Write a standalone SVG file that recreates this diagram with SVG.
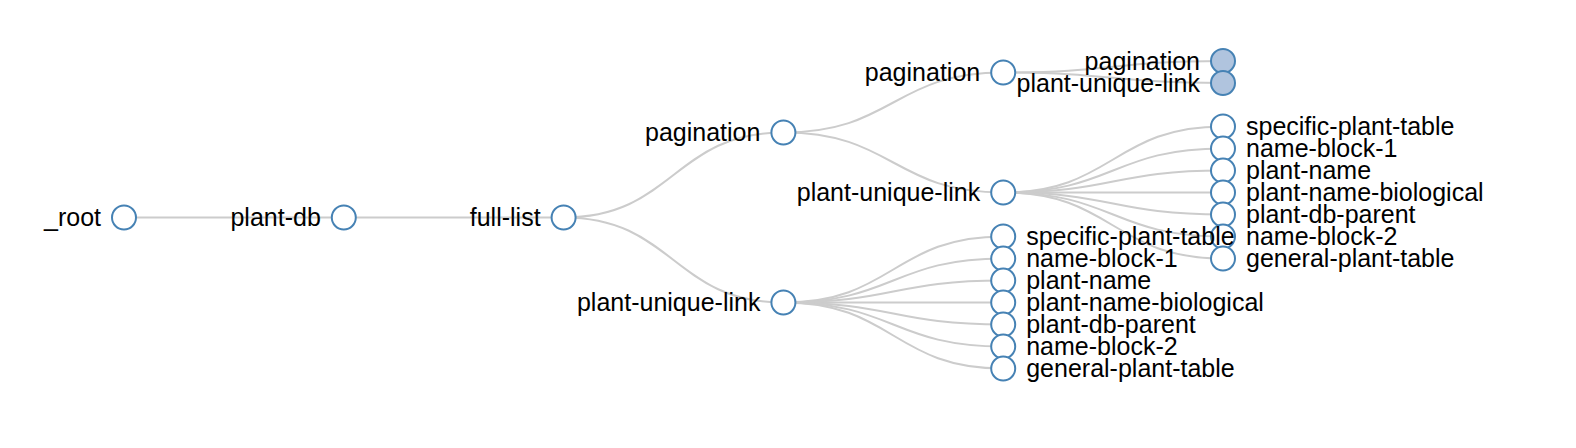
<svg xmlns="http://www.w3.org/2000/svg" width="1576" height="448" viewBox="0 0 1576 448">
<style>
.link{fill:none;stroke:#ccc;stroke-width:2}
.node circle{fill:#fff;stroke:#4682b4;stroke-width:2}
.node.collapsed circle{fill:#b0c4de}
.node text{font-family:"Liberation Sans",Arial,sans-serif;font-size:25px;fill:#000}
.l{text-anchor:end}
.r{text-anchor:start}
</style>
<rect width="1576" height="448" fill="#fff"/>
<g id="links">
<path class="link" d="M124,217.5 C233.9,217.5 233.9,217.5 343.8,217.5"/>
<path class="link" d="M343.8,217.5 C453.7,217.5 453.7,217.5 563.6,217.5"/>
<path class="link" d="M563.6,217.5 C673.5,217.5 673.5,132.5 783.4,132.5"/>
<path class="link" d="M563.6,217.5 C673.5,217.5 673.5,302.5 783.4,302.5"/>
<path class="link" d="M783.4,132.5 C893.3,132.5 893.3,72.5 1003.2,72.5"/>
<path class="link" d="M783.4,132.5 C893.3,132.5 893.3,192.5 1003.2,192.5"/>
<path class="link" d="M1003.2,72.5 C1113.1,72.5 1113.1,61 1223,61"/>
<path class="link" d="M1003.2,72.5 C1113.1,72.5 1113.1,83 1223,83"/>
<path class="link" d="M1003.2,192.5 C1113.1,192.5 1113.1,126.5 1223,126.5"/>
<path class="link" d="M1003.2,192.5 C1113.1,192.5 1113.1,148.5 1223,148.5"/>
<path class="link" d="M1003.2,192.5 C1113.1,192.5 1113.1,170.5 1223,170.5"/>
<path class="link" d="M1003.2,192.5 C1113.1,192.5 1113.1,192.5 1223,192.5"/>
<path class="link" d="M1003.2,192.5 C1113.1,192.5 1113.1,214.5 1223,214.5"/>
<path class="link" d="M1003.2,192.5 C1113.1,192.5 1113.1,236.5 1223,236.5"/>
<path class="link" d="M1003.2,192.5 C1113.1,192.5 1113.1,258.5 1223,258.5"/>
<path class="link" d="M783.4,302.5 C893.3,302.5 893.3,236.5 1003.2,236.5"/>
<path class="link" d="M783.4,302.5 C893.3,302.5 893.3,258.5 1003.2,258.5"/>
<path class="link" d="M783.4,302.5 C893.3,302.5 893.3,280.5 1003.2,280.5"/>
<path class="link" d="M783.4,302.5 C893.3,302.5 893.3,302.5 1003.2,302.5"/>
<path class="link" d="M783.4,302.5 C893.3,302.5 893.3,324.5 1003.2,324.5"/>
<path class="link" d="M783.4,302.5 C893.3,302.5 893.3,346.5 1003.2,346.5"/>
<path class="link" d="M783.4,302.5 C893.3,302.5 893.3,368.5 1003.2,368.5"/>
</g>
<g id="n-root" class="node" transform="translate(124,217.5)"><circle r="12"/><text class="l" x="-23" dy="8.5">_root</text></g>
<g id="n-plant-db" class="node" transform="translate(343.8,217.5)"><circle r="12"/><text class="l" x="-23" dy="8.5">plant-db</text></g>
<g id="n-full-list" class="node" transform="translate(563.6,217.5)"><circle r="12"/><text class="l" x="-23" dy="8.5">full-list</text></g>
<g id="n-pagination-3" class="node" transform="translate(783.4,132.5)"><circle r="12"/><text class="l" x="-23" dy="8.5">pagination</text></g>
<g id="n-pagination-4" class="node" transform="translate(1003.2,72.5)"><circle r="12"/><text class="l" x="-23" dy="8.5">pagination</text></g>
<g id="n-pagination-5" class="node collapsed" transform="translate(1223,61)"><circle r="12"/><text class="l" x="-23" dy="8.5">pagination</text></g>
<g id="n-pul-5" class="node collapsed" transform="translate(1223,83)"><circle r="12"/><text class="l" x="-23" dy="8.5">plant-unique-link</text></g>
<g id="n-pul-4" class="node" transform="translate(1003.2,192.5)"><circle r="12"/><text class="l" x="-23" dy="8.5">plant-unique-link</text></g>
<g id="n5-specific-plant-table" class="node" transform="translate(1223,126.5)"><circle r="12"/><text class="r" x="23" dy="8.5">specific-plant-table</text></g>
<g id="n5-name-block-1" class="node" transform="translate(1223,148.5)"><circle r="12"/><text class="r" x="23" dy="8.5">name-block-1</text></g>
<g id="n5-plant-name" class="node" transform="translate(1223,170.5)"><circle r="12"/><text class="r" x="23" dy="8.5">plant-name</text></g>
<g id="n5-plant-name-biological" class="node" transform="translate(1223,192.5)"><circle r="12"/><text class="r" x="23" dy="8.5">plant-name-biological</text></g>
<g id="n5-plant-db-parent" class="node" transform="translate(1223,214.5)"><circle r="12"/><text class="r" x="23" dy="8.5">plant-db-parent</text></g>
<g id="n5-name-block-2" class="node" transform="translate(1223,236.5)"><circle r="12"/><text class="r" x="23" dy="8.5">name-block-2</text></g>
<g id="n5-general-plant-table" class="node" transform="translate(1223,258.5)"><circle r="12"/><text class="r" x="23" dy="8.5">general-plant-table</text></g>
<g id="n-pul-3" class="node" transform="translate(783.4,302.5)"><circle r="12"/><text class="l" x="-23" dy="8.5">plant-unique-link</text></g>
<g id="n4-specific-plant-table" class="node" transform="translate(1003.2,236.5)"><circle r="12"/><text class="r" x="23" dy="8.5">specific-plant-table</text></g>
<g id="n4-name-block-1" class="node" transform="translate(1003.2,258.5)"><circle r="12"/><text class="r" x="23" dy="8.5">name-block-1</text></g>
<g id="n4-plant-name" class="node" transform="translate(1003.2,280.5)"><circle r="12"/><text class="r" x="23" dy="8.5">plant-name</text></g>
<g id="n4-plant-name-biological" class="node" transform="translate(1003.2,302.5)"><circle r="12"/><text class="r" x="23" dy="8.5">plant-name-biological</text></g>
<g id="n4-plant-db-parent" class="node" transform="translate(1003.2,324.5)"><circle r="12"/><text class="r" x="23" dy="8.5">plant-db-parent</text></g>
<g id="n4-name-block-2" class="node" transform="translate(1003.2,346.5)"><circle r="12"/><text class="r" x="23" dy="8.5">name-block-2</text></g>
<g id="n4-general-plant-table" class="node" transform="translate(1003.2,368.5)"><circle r="12"/><text class="r" x="23" dy="8.5">general-plant-table</text></g>
</svg>
